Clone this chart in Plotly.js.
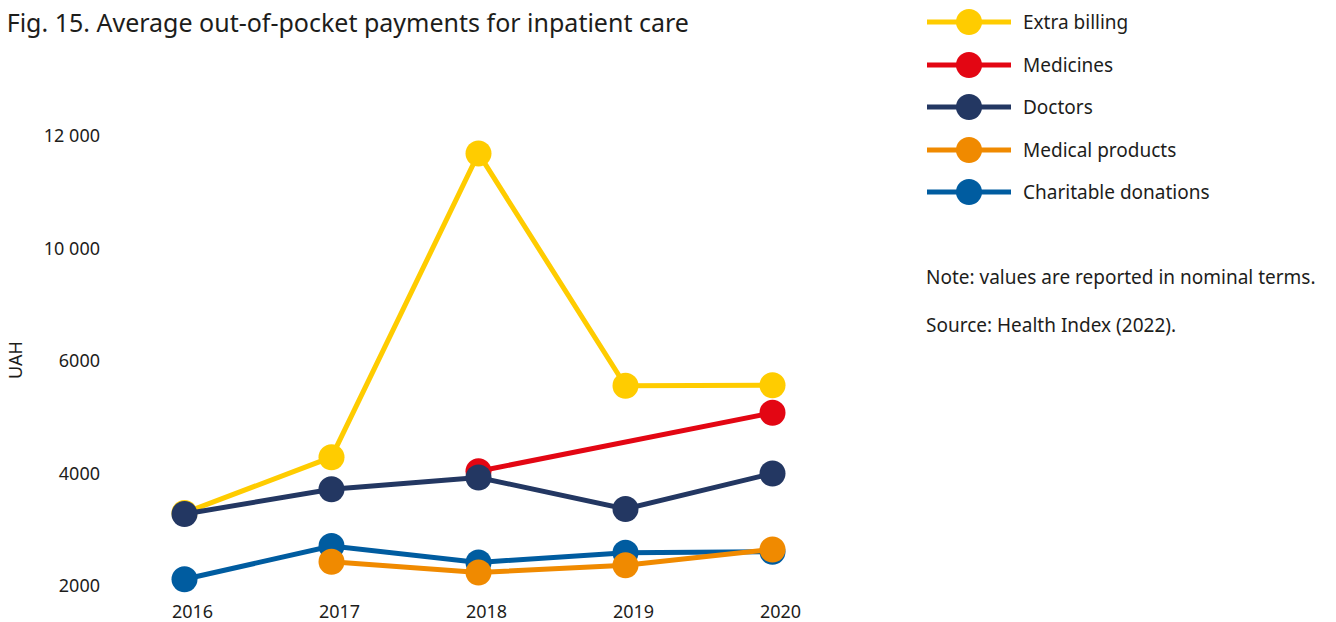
<!DOCTYPE html>
<html><head><meta charset="utf-8">
<script src="https://cdn.plot.ly/plotly-3.0.1.min.js"></script>
<style>html,body{margin:0;padding:0;background:#fff}#chart{width:1336px;height:622px}</style>
</head><body><div id="chart"></div>
<script>
// ---- data ----
const years = [2016, 2017, 2018, 2019, 2020];
const seriesNames = ["Extra billing", "Medicines", "Doctors", "Medical products", "Charitable donations"];
const seriesColors = ["#FFCC00", "#E30613", "#233762", "#F08A00", "#005CA0"];
const extraBilling = [3300, 4290, 11690, 5560, 5570];
const medicines = [null, null, 4040, null, 5080];
const doctors = [3280, 3720, 3930, 3370, 4000];
const medicalProducts = [null, 2430, 2240, 2370, 2650];
const charitableDonations = [2120, 2710, 2420, 2590, 2610];
const tickValues = [2000, 4000, 6000, 10000, 12000];
const tickLabels = ["2000", "4000", "6000", "10 000", "12 000"];
const title = "Fig. 15. Average out-of-pocket payments for inpatient care";
const noteText = "Note: values are reported in nominal terms.";
const sourceText = "Source: Health Index (2022).";
const yTitle = "UAH";

// broken axis: the gap between 6000 and 10 000 is collapsed
const BREAK_LO = 6000, BREAK_SHIFT = 2000;
function axisPos(v) { if (v == null) return null; return v > BREAK_LO ? v - BREAK_SHIFT : v; }

const FONT = "Noto Sans, sans-serif";
const TXT = "#1d1d1b";
const seriesData = [extraBilling, medicines, doctors, medicalProducts, charitableDonations];
const drawOrder = [0, 1, 2, 4, 3];

const L = 111, T = 136, W = 735, H = 450;
function px2x(px) { return (px - L) / W; }
function px2y(py) { return (T + H - py) / H; }

const traces = drawOrder.map(i => ({
  type: "scatter", mode: "lines+markers", name: seriesNames[i],
  x: years, y: seriesData[i].map(axisPos),
  customdata: seriesData[i],
  hovertemplate: "%{customdata}<extra>" + seriesNames[i] + "</extra>",
  connectgaps: true,
  line: {color: seriesColors[i], width: 5},
  marker: {color: seriesColors[i], size: 26},
  cliponaxis: false, showlegend: false
}));

// custom legend
const shapes = [], annotations = [];
const legendY = [22, 65, 107, 150, 192];
seriesNames.forEach((n, i) => {
  const cy = legendY[i];
  shapes.push({type: "line", xref: "paper", yref: "paper",
    x0: px2x(927), x1: px2x(1011), y0: px2y(cy), y1: px2y(cy),
    line: {color: seriesColors[i], width: 5}});
  shapes.push({type: "circle", xref: "paper", yref: "paper",
    x0: px2x(969 - 13), x1: px2x(969 + 13), y0: px2y(cy + 13), y1: px2y(cy - 13),
    fillcolor: seriesColors[i], line: {width: 0}});
  annotations.push({xref: "paper", yref: "paper", x: px2x(1021), y: px2y(cy),
    xanchor: "left", yanchor: "middle", showarrow: false, text: n,
    font: {family: FONT, size: 19, color: TXT}});
});
annotations.push({xref: "paper", yref: "paper", x: px2x(924), y: px2y(277),
  xanchor: "left", yanchor: "middle", showarrow: false, text: noteText,
  font: {family: FONT, size: 19, color: TXT}});
annotations.push({xref: "paper", yref: "paper", x: px2x(924), y: px2y(325),
  xanchor: "left", yanchor: "middle", showarrow: false, text: sourceText,
  font: {family: FONT, size: 19, color: TXT}});
annotations.push({xref: "paper", yref: "paper", x: px2x(15), y: px2y(360),
  xanchor: "center", yanchor: "middle", showarrow: false, text: yTitle, textangle: -90,
  font: {family: FONT, size: 18, color: TXT}});

const layout = {
  width: 1336, height: 622,
  margin: {l: L, r: 1336 - L - W, t: T, b: 622 - T - H},
  paper_bgcolor: "#fff", plot_bgcolor: "#fff",
  font: {family: FONT, color: TXT, size: 18},
  title: {text: title, x: 0.005, xanchor: "left", y: 0.963, yanchor: "middle",
    font: {family: FONT, size: 25, color: TXT}},
  xaxis: {range: [2015.5, 2020.5], tickvals: years, ticktext: years.map(String),
    showgrid: false, zeroline: false, showline: false, ticks: "",
    ticklabelstandoff: 13, ticklabelshift: 8, fixedrange: true,
    tickfont: {family: FONT, size: 18, color: TXT}},
  yaxis: {range: [2000, 10000], tickvals: tickValues.map(axisPos), ticktext: tickLabels,
    showgrid: false, zeroline: false, showline: false, ticks: "",
    ticklabelstandoff: 10, fixedrange: true,
    tickfont: {family: FONT, size: 18, color: TXT}},
  shapes: shapes, annotations: annotations, showlegend: false
};
Plotly.newPlot("chart", traces, layout, {displayModeBar: false, staticPlot: true});
</script></body></html>
